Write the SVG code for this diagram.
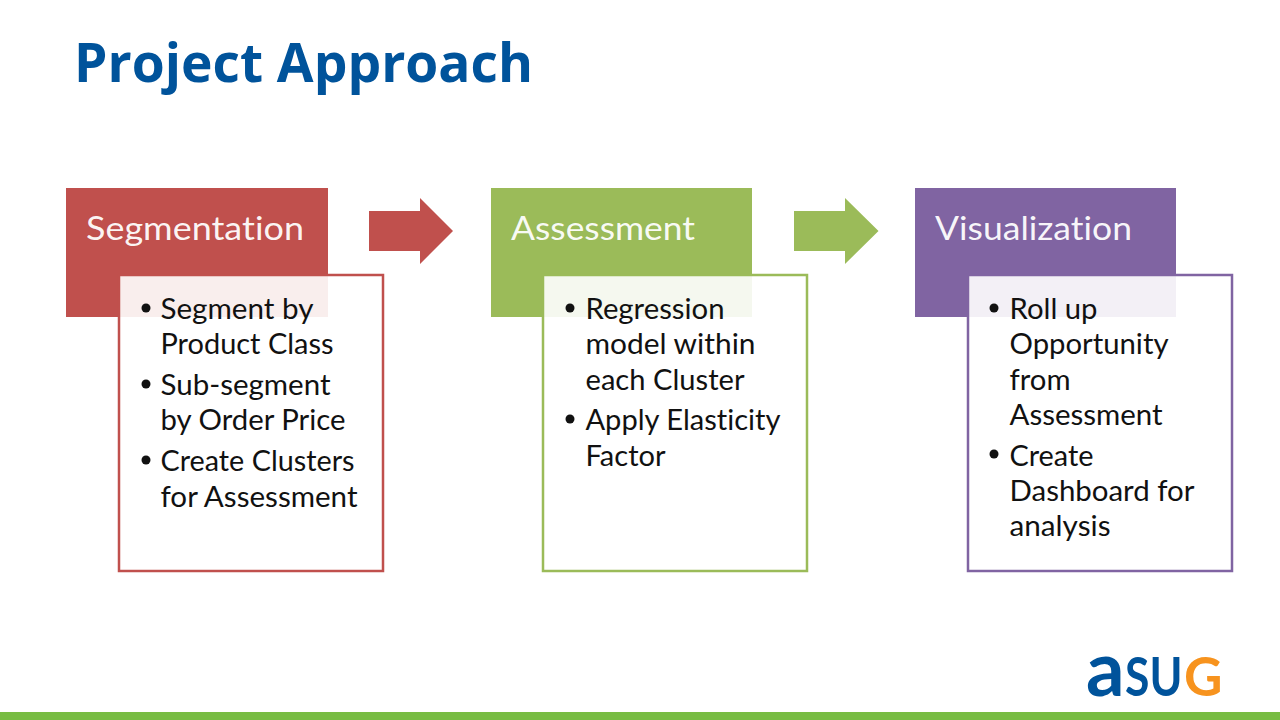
<svg xmlns="http://www.w3.org/2000/svg" width="1280" height="720" viewBox="0 0 1280 720">
<style>
.h{font:400 33px Lato,"Liberation Sans",sans-serif;font-variant-ligatures:none;fill:#fff;fill-opacity:.95}
.b{font:400 28.5px Lato,"Liberation Sans",sans-serif;font-variant-ligatures:none;fill:#111}
.box{fill:#fff;fill-opacity:.9;stroke-width:2.5}
.d{fill:#111}
.t{font:700 54px "Open Sans",sans-serif;fill:#00539b}
.l{font:700 53px Lato,sans-serif}
</style>
<rect width="1280" height="720" fill="#fff"/>
<text id="title" class="t" x="74" y="82" textLength="459" lengthAdjust="spacingAndGlyphs">Project Approach</text>
<g id="connectors">
<path d="M369 211H420V198L453 231L420 264V251H369Z" fill="#c0504d"/>
<path d="M794 211H845V198L878.500 231L845 264V251H794Z" fill="#9bbb59"/>
</g>
<g id="segmentation">
<rect x="66" y="188" width="262" height="129" fill="#c0504d"/>
<text class="h" x="86" y="240" textLength="218" lengthAdjust="spacingAndGlyphs">Segmentation</text>
<rect class="box" x="119" y="275" width="264" height="296" stroke="#c0504d"/>
<circle class="d" cx="146" cy="308" r="4.500"/><text class="b" x="160.500" y="319" textLength="153" lengthAdjust="spacingAndGlyphs">Segment by</text>
<text class="b" x="160.500" y="354" textLength="173" lengthAdjust="spacingAndGlyphs">Product Class</text>
<circle class="d" cx="146" cy="384" r="4.500"/><text class="b" x="160.500" y="395" textLength="170" lengthAdjust="spacingAndGlyphs">Sub-segment</text>
<text class="b" x="160.500" y="430" textLength="185" lengthAdjust="spacingAndGlyphs">by Order Price</text>
<circle class="d" cx="146" cy="460" r="4.500"/><text class="b" x="160.500" y="471" textLength="194" lengthAdjust="spacingAndGlyphs">Create Clusters</text>
<text class="b" x="160.500" y="507" textLength="197" lengthAdjust="spacingAndGlyphs">for Assessment</text>
</g>
<g id="assessment">
<rect x="491" y="188" width="261" height="129" fill="#9bbb59"/>
<text class="h" x="511" y="240" textLength="184" lengthAdjust="spacingAndGlyphs">Assessment</text>
<rect class="box" x="543" y="275" width="264" height="296" stroke="#9bbb59"/>
<circle class="d" cx="570" cy="308" r="4.500"/><text class="b" x="585.500" y="319" textLength="139" lengthAdjust="spacingAndGlyphs">Regression</text>
<text class="b" x="585.500" y="354" textLength="170" lengthAdjust="spacingAndGlyphs">model within</text>
<text class="b" x="585.500" y="390" textLength="159" lengthAdjust="spacingAndGlyphs">each Cluster</text>
<circle class="d" cx="570" cy="419" r="4.500"/><text class="b" x="585.500" y="430" textLength="195" lengthAdjust="spacingAndGlyphs">Apply Elasticity</text>
<text class="b" x="585.500" y="466" textLength="80" lengthAdjust="spacingAndGlyphs">Factor</text>
</g>
<g id="visualization">
<rect x="915" y="188" width="261" height="129" fill="#8064a2"/>
<text class="h" x="935" y="240" textLength="197" lengthAdjust="spacingAndGlyphs">Visualization</text>
<rect class="box" x="968" y="275" width="264" height="296" stroke="#8064a2"/>
<circle class="d" cx="994" cy="308" r="4.500"/><text class="b" x="1009.500" y="319" textLength="88" lengthAdjust="spacingAndGlyphs">Roll up</text>
<text class="b" x="1009.500" y="354" textLength="159" lengthAdjust="spacingAndGlyphs">Opportunity</text>
<text class="b" x="1009.500" y="390" textLength="61" lengthAdjust="spacingAndGlyphs">from</text>
<text class="b" x="1009.500" y="425" textLength="153" lengthAdjust="spacingAndGlyphs">Assessment</text>
<circle class="d" cx="994" cy="454" r="4.500"/><text class="b" x="1009.500" y="466" textLength="84" lengthAdjust="spacingAndGlyphs">Create</text>
<text class="b" x="1009.500" y="501" textLength="185" lengthAdjust="spacingAndGlyphs">Dashboard for</text>
<text class="b" x="1009.500" y="536" textLength="101" lengthAdjust="spacingAndGlyphs">analysis</text>
</g>
<g id="logo">
<text class="l" transform="translate(1086 696)" fill="#00539b" style="font-size:76px">a</text>
<text class="l" transform="translate(1125 696) scale(.84 1)" fill="#00539b">SU</text>
<text class="l" transform="translate(1184 696)" fill="#f7931e">G</text>
</g>
<rect id="footer-bar" x="0" y="712" width="1280" height="8" fill="#78bc43"/>
</svg>
